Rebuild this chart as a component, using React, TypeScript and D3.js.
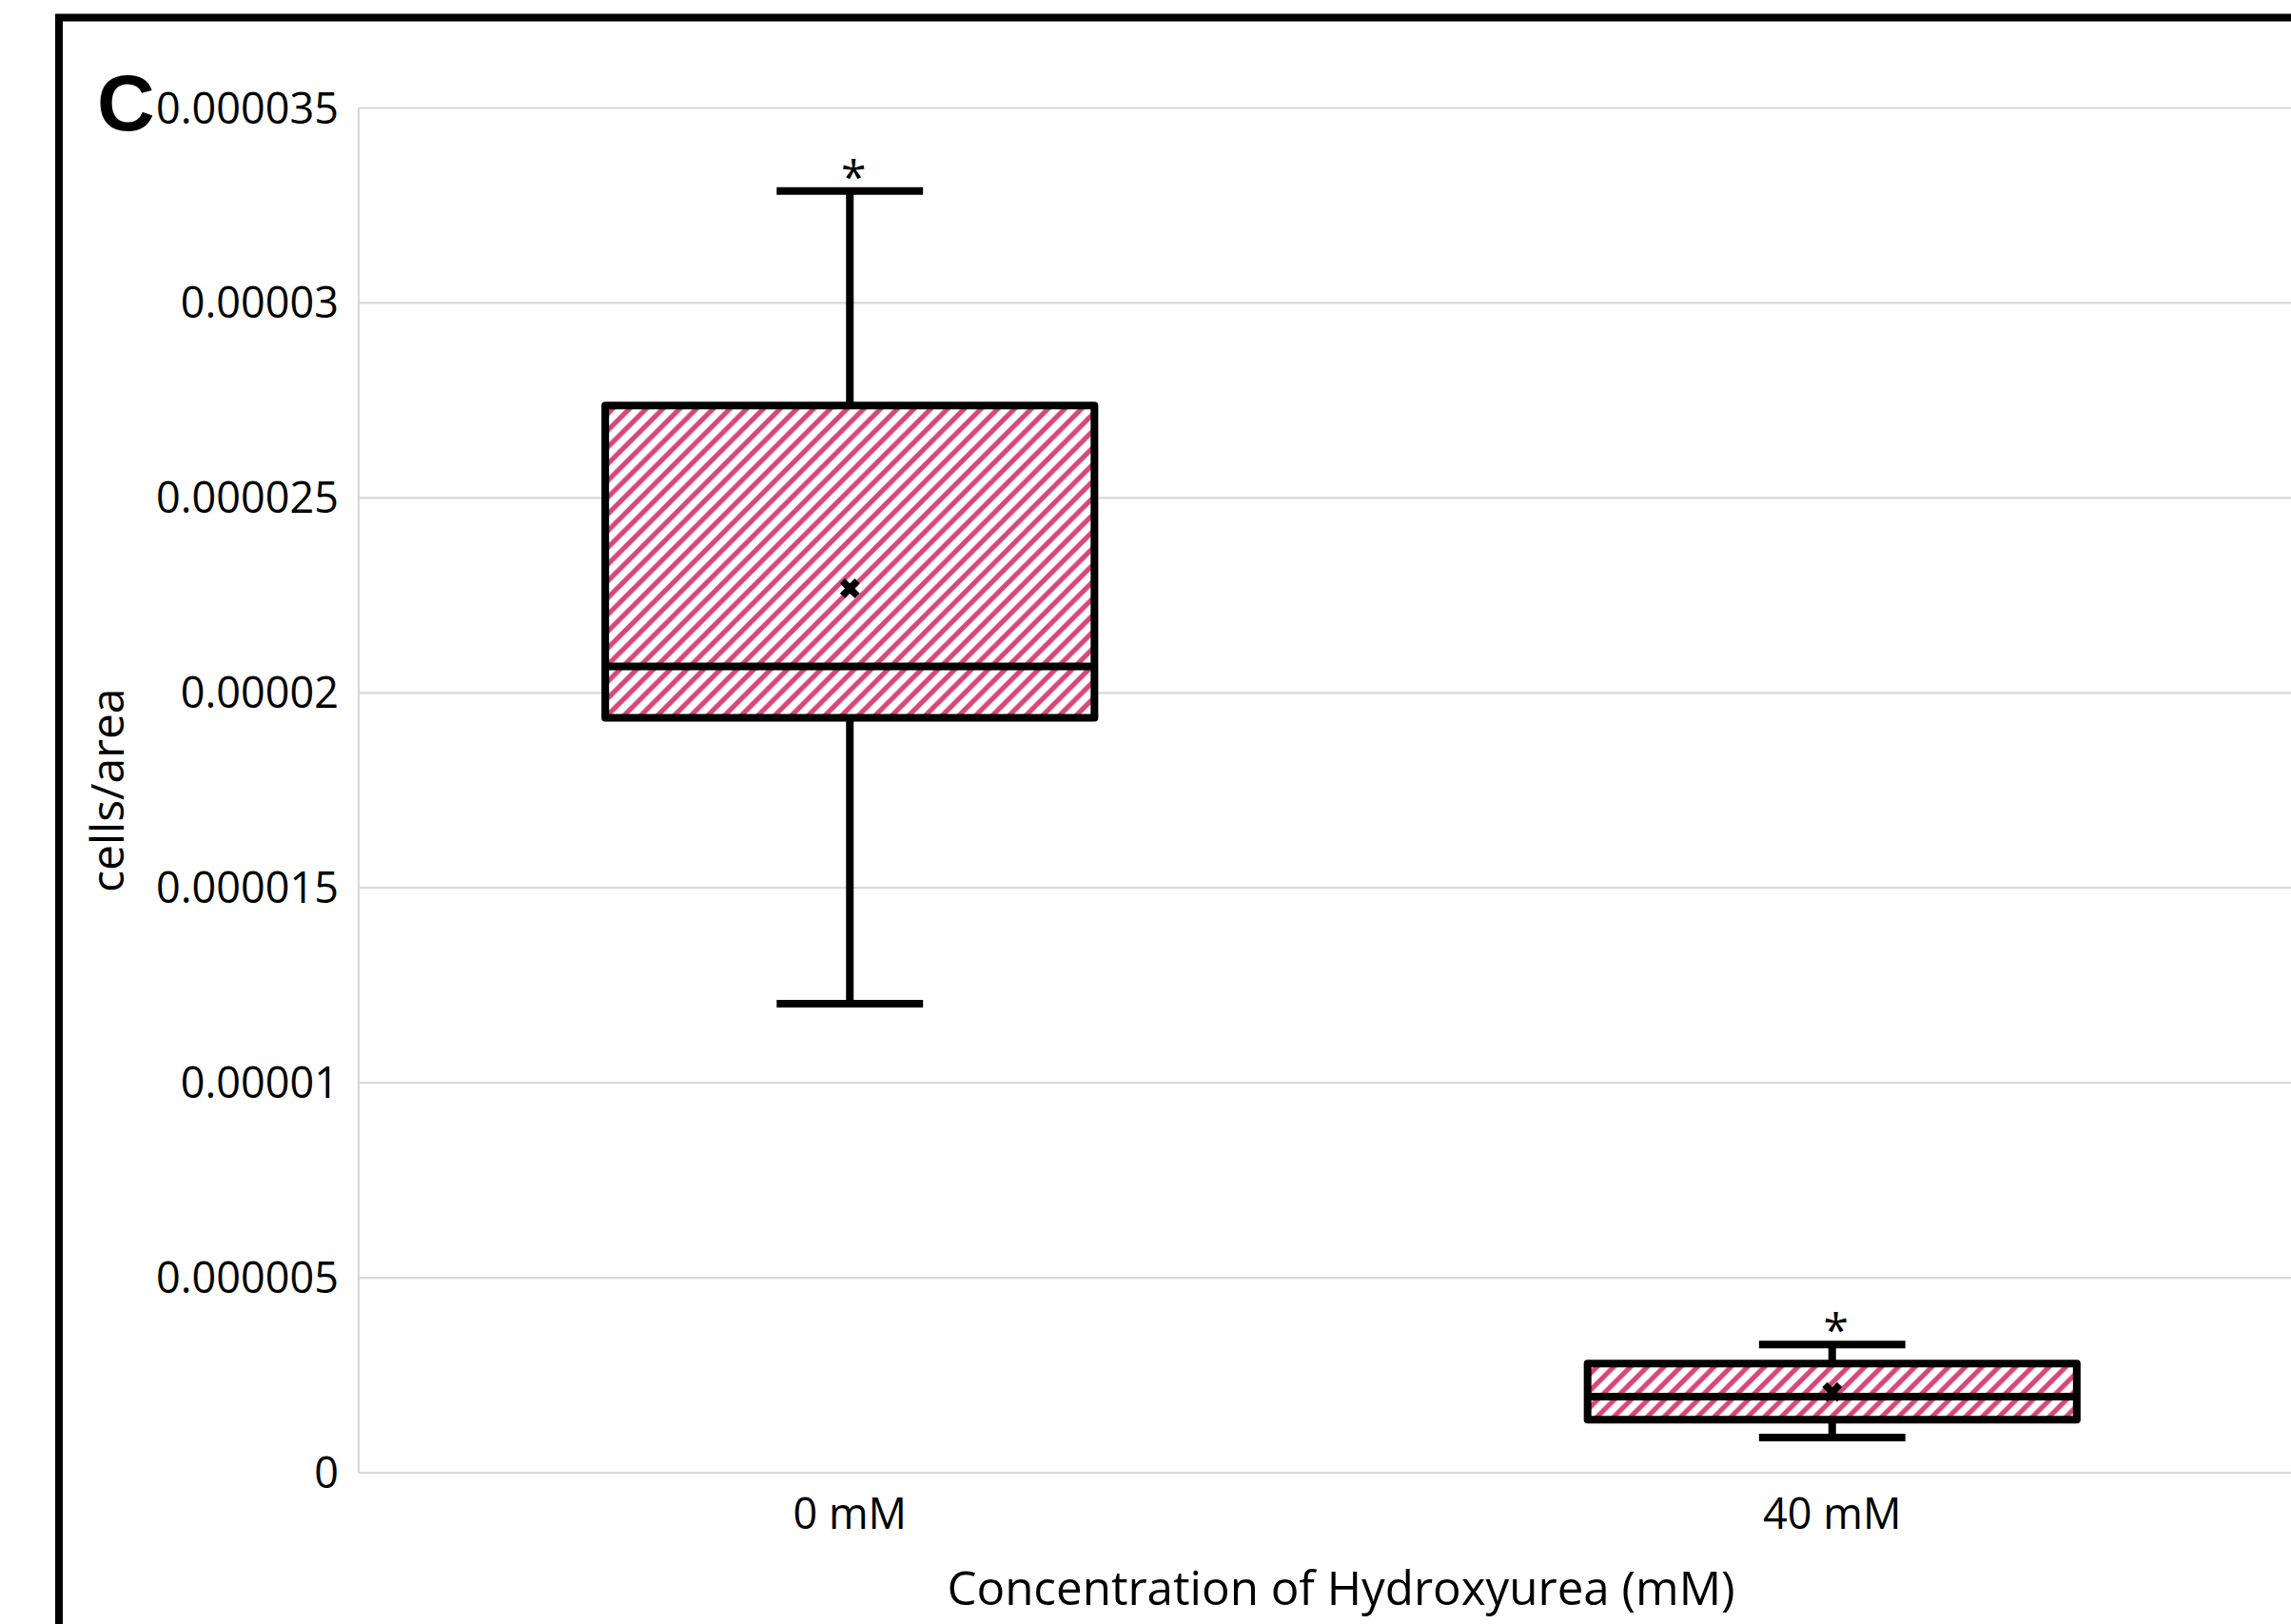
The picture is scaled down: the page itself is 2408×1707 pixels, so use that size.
import React from "react";
import * as d3 from "d3";

// box plot summary (cells/area)
const categories = ["0 mM", "40 mM"];
const whiskerLow = [0.00001203, 0.0000009];
const q1 = [0.00001936, 0.00000136];
const median = [0.00002068, 0.00000195];
const q3 = [0.00002737, 0.0000028];
const whiskerHigh = [0.00003287, 0.00000329];
const means = [0.00002268, 0.00000207];

const yTicks = [0, 0.000005, 0.00001, 0.000015, 0.00002, 0.000025, 0.00003, 0.000035];
const yTickLabels = ["0", "0.000005", "0.00001", "0.000015", "0.00002", "0.000025", "0.00003", "0.000035"];

const W = 2408;
const H = 1707;
const font = "'Open Sans', 'Noto Sans', sans-serif";
const pink = "#d8467a";

export default function App() {
	const x = d3.scaleBand().domain(categories).range([377, 2442]);
	const y = d3.scaleLinear().domain([0, 0.000035]).range([1548, 113.5]);

	const boxW = x.bandwidth() * 0.498;
	const capW = x.bandwidth() * 0.149;
	const stroke = 8;
	const meanSymbol = d3.symbol(d3.symbolCross, 270)();

	const boxes = categories.map((c, i) => ({
		key: c,
		cx: (x(c) as number) + x.bandwidth() / 2,
		lo: whiskerLow[i],
		q1: q1[i],
		med: median[i],
		q3: q3[i],
		hi: whiskerHigh[i],
		mean: means[i],
	}));

	const [x0, x1] = x.range();

	return (
		<svg
			width={W}
			height={H}
			style={{ position: "absolute", left: 0, top: 0, background: "#fff" }}
			fontFamily={font}
		>
			<defs>
				<pattern id="hatch" patternUnits="userSpaceOnUse" width={17.6} height={17.6}>
					<rect width={17.6} height={17.6} fill="#fff" />
					<path
						d="M-4.4,4.4 L4.4,-4.4 M0,17.6 L17.6,0 M13.2,22 L22,13.2"
						stroke={pink}
						strokeWidth={5.2}
					/>
				</pattern>
			</defs>

			{/* outer panel frame */}
			<rect x={62} y={18.5} width={2500} height={1800} fill="none" stroke="#000" strokeWidth={8} />

			{/* gridlines */}
			{yTicks.map((t) => (
				<line key={t} x1={x0} x2={x1} y1={y(t)} y2={y(t)} stroke="#d9d9d9" strokeWidth={2.2} />
			))}
			<line x1={x0} x2={x0} y1={y(0)} y2={y(0.000035)} stroke="#d9d9d9" strokeWidth={2.2} />

			{/* y tick labels */}
			{yTicks.map((t, i) => (
				<text key={"l" + t} x={356} y={y(t)} dy="0.357em" textAnchor="end" fontSize={45} fill="#000">
					{yTickLabels[i]}
				</text>
			))}

			{/* x tick labels */}
			{boxes.map((b) => (
				<text key={"x" + b.key} x={b.cx} y={1607} textAnchor="middle" fontSize={45} fill="#000">
					{b.key}
				</text>
			))}

			{/* boxes */}
			{boxes.map((b) => (
				<g key={b.key}>
					<line x1={b.cx} x2={b.cx} y1={y(b.hi)} y2={y(b.q3)} stroke="#000" strokeWidth={stroke} />
					<line x1={b.cx} x2={b.cx} y1={y(b.q1)} y2={y(b.lo)} stroke="#000" strokeWidth={stroke} />
					<line x1={b.cx - capW / 2} x2={b.cx + capW / 2} y1={y(b.hi)} y2={y(b.hi)} stroke="#000" strokeWidth={stroke} />
					<line x1={b.cx - capW / 2} x2={b.cx + capW / 2} y1={y(b.lo)} y2={y(b.lo)} stroke="#000" strokeWidth={stroke} />
					<rect
						x={b.cx - boxW / 2}
						y={y(b.q3)}
						width={boxW}
						height={y(b.q1) - y(b.q3)}
						fill="url(#hatch)"
						stroke="#000"
						strokeWidth={stroke}
						strokeLinejoin="round"
					/>
					<line x1={b.cx - boxW / 2} x2={b.cx + boxW / 2} y1={y(b.med)} y2={y(b.med)} stroke="#000" strokeWidth={stroke} />
					<path d={meanSymbol as string} transform={`translate(${b.cx},${y(b.mean)}) rotate(45)`} fill="#000" />
					<text x={b.cx + 4} y={y(b.hi) + 2} textAnchor="middle" fontSize={48} fill="#000">
						*
					</text>
				</g>
			))}

			{/* axis titles */}
			<text x={(x0 + x1) / 2} y={1687} textAnchor="middle" fontSize={49.3} fill="#000">
				Concentration of Hydroxyurea (mM)
			</text>
			<text
				transform={`translate(130, ${(y(0) + y(0.000035)) / 2}) rotate(-90)`}
				textAnchor="middle"
				fontSize={48}
				fill="#000"
			>
				cells/area
			</text>

			{/* panel letter */}
			<text x={102} y={137} fontFamily="'Liberation Sans', Arial, sans-serif" fontWeight="bold" fontSize={84} fill="#000">
				C
			</text>
		</svg>
	);
}
